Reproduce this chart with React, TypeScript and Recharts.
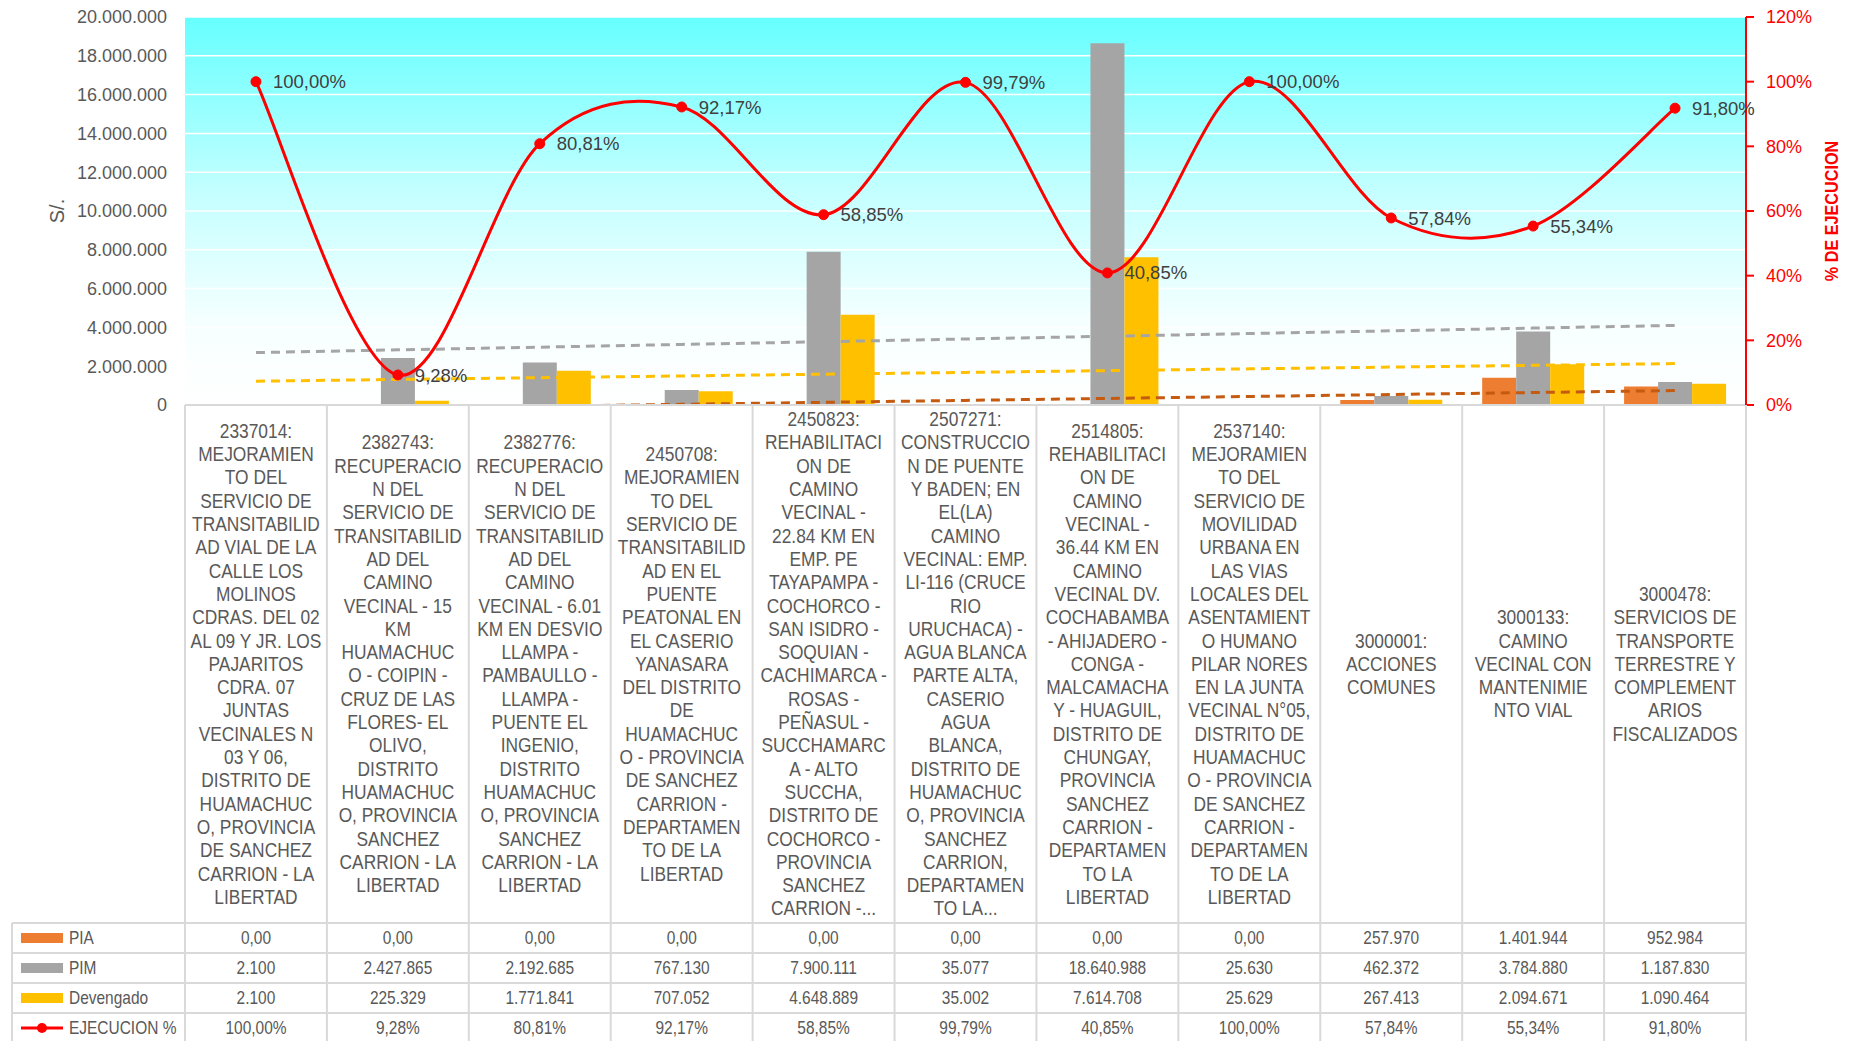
import React from "react";
import { ComposedChart, Bar, Line, XAxis, YAxis, CartesianGrid, LabelList } from "recharts";

// project names as they wrap in the table header
const categories = [
  "2337014:\nMEJORAMIEN\nTO DEL\nSERVICIO DE\nTRANSITABILID\nAD VIAL DE LA\nCALLE LOS\nMOLINOS\nCDRAS. DEL 02\nAL 09 Y JR. LOS\nPAJARITOS\nCDRA. 07\nJUNTAS\nVECINALES N\n03 Y 06,\nDISTRITO DE\nHUAMACHUC\nO, PROVINCIA\nDE SANCHEZ\nCARRION - LA\nLIBERTAD",
  "2382743:\nRECUPERACIO\nN DEL\nSERVICIO DE\nTRANSITABILID\nAD DEL\nCAMINO\nVECINAL - 15\nKM\nHUAMACHUC\nO - COIPIN -\nCRUZ DE LAS\nFLORES- EL\nOLIVO,\nDISTRITO\nHUAMACHUC\nO, PROVINCIA\nSANCHEZ\nCARRION - LA\nLIBERTAD",
  "2382776:\nRECUPERACIO\nN DEL\nSERVICIO DE\nTRANSITABILID\nAD DEL\nCAMINO\nVECINAL - 6.01\nKM EN DESVIO\nLLAMPA -\nPAMBAULLO -\nLLAMPA -\nPUENTE EL\nINGENIO,\nDISTRITO\nHUAMACHUC\nO, PROVINCIA\nSANCHEZ\nCARRION - LA\nLIBERTAD",
  "2450708:\nMEJORAMIEN\nTO DEL\nSERVICIO DE\nTRANSITABILID\nAD EN EL\nPUENTE\nPEATONAL EN\nEL CASERIO\nYANASARA\nDEL DISTRITO\nDE\nHUAMACHUC\nO - PROVINCIA\nDE SANCHEZ\nCARRION -\nDEPARTAMEN\nTO DE LA\nLIBERTAD",
  "2450823:\nREHABILITACI\nON DE\nCAMINO\nVECINAL -\n22.84 KM EN\nEMP. PE\nTAYAPAMPA -\nCOCHORCO -\nSAN ISIDRO -\nSOQUIAN -\nCACHIMARCA -\nROSAS -\nPEÑASUL -\nSUCCHAMARC\nA - ALTO\nSUCCHA,\nDISTRITO DE\nCOCHORCO -\nPROVINCIA\nSANCHEZ\nCARRION -...",
  "2507271:\nCONSTRUCCIO\nN DE PUENTE\nY BADEN; EN\nEL(LA)\nCAMINO\nVECINAL: EMP.\nLI-116 (CRUCE\nRIO\nURUCHACA) -\nAGUA BLANCA\nPARTE ALTA,\nCASERIO\nAGUA\nBLANCA,\nDISTRITO DE\nHUAMACHUC\nO, PROVINCIA\nSANCHEZ\nCARRION,\nDEPARTAMEN\nTO LA...",
  "2514805:\nREHABILITACI\nON DE\nCAMINO\nVECINAL -\n36.44 KM EN\nCAMINO\nVECINAL DV.\nCOCHABAMBA\n- AHIJADERO -\nCONGA -\nMALCAMACHA\nY - HUAGUIL,\nDISTRITO DE\nCHUNGAY,\nPROVINCIA\nSANCHEZ\nCARRION -\nDEPARTAMEN\nTO LA\nLIBERTAD",
  "2537140:\nMEJORAMIEN\nTO DEL\nSERVICIO DE\nMOVILIDAD\nURBANA EN\nLAS VIAS\nLOCALES DEL\nASENTAMIENT\nO HUMANO\nPILAR NORES\nEN LA JUNTA\nVECINAL N°05,\nDISTRITO DE\nHUAMACHUC\nO - PROVINCIA\nDE SANCHEZ\nCARRION -\nDEPARTAMEN\nTO DE LA\nLIBERTAD",
  "3000001:\nACCIONES\nCOMUNES",
  "3000133:\nCAMINO\nVECINAL CON\nMANTENIMIE\nNTO VIAL",
  "3000478:\nSERVICIOS DE\nTRANSPORTE\nTERRESTRE Y\nCOMPLEMENT\nARIOS\nFISCALIZADOS",
];

const pia = [0, 0, 0, 0, 0, 0, 0, 0, 257970, 1401944, 952984];
const pim = [2100, 2427865, 2192685, 767130, 7900111, 35077, 18640988, 25630, 462372, 3784880, 1187830];
const devengado = [2100, 225329, 1771841, 707052, 4648889, 35002, 7614708, 25629, 267413, 2094671, 1090464];
const ejecucion = [100.0, 9.28, 80.81, 92.17, 58.85, 99.79, 40.85, 100.0, 57.84, 55.34, 91.8];

const leftTicks = [0, 2000000, 4000000, 6000000, 8000000, 10000000, 12000000, 14000000, 16000000, 18000000, 20000000];
const rightTicks = [0, 20, 40, 60, 80, 100, 120];

const FONT = "'Liberation Sans', Arial, sans-serif";
const TEXT = "#595959";
const BORDER = "#D9D9D9";
const C_PIA = "#ED7D31";
const C_PIM = "#A5A5A5";
const C_DEV = "#FFC000";
const C_RED = "#FF0000";

const W = 1856;
const H = 1041;
const PLOT_L = 185;
const PLOT_R = 1746;
const PLOT_T = 17;
const PLOT_B = 405;
const BAND = (PLOT_R - PLOT_L) / categories.length;
const HEAD_B = 923;
const ROW_H = 30;
const LINE_H = 23.3;
// no narrow font installed, so squeeze text horizontally instead
const SQ_HEAD = 0.89;
const SQ_ROW = 0.86;

// least squares line, like excel's linear trendline
function linearFit(ys: number[]) {
  const n = ys.length;
  const mx = (n + 1) / 2;
  const my = ys.reduce((a, b) => a + b, 0) / n;
  let sxy = 0;
  let sxx = 0;
  ys.forEach((y, i) => {
    sxy += (i + 1 - mx) * (y - my);
    sxx += (i + 1 - mx) * (i + 1 - mx);
  });
  const slope = sxy / sxx;
  return ys.map((_, i) => my + slope * (i + 1 - mx));
}

// excel style smoothed line (catmull-rom through the points)
function excelSmooth(context: any) {
  let pts: number[][] = [];
  return {
    areaStart() {},
    areaEnd() {},
    lineStart() {
      pts = [];
    },
    lineEnd() {
      const n = pts.length;
      if (!n) return;
      context.moveTo(pts[0][0], pts[0][1]);
      for (let i = 0; i < n - 1; i++) {
        const p0 = pts[Math.max(i - 1, 0)];
        const p1 = pts[i];
        const p2 = pts[i + 1];
        const p3 = pts[Math.min(i + 2, n - 1)];
        context.bezierCurveTo(
          p1[0] + (p2[0] - p0[0]) / 6,
          p1[1] + (p2[1] - p0[1]) / 6,
          p2[0] - (p3[0] - p1[0]) / 6,
          p2[1] - (p3[1] - p1[1]) / 6,
          p2[0],
          p2[1]
        );
      }
    },
    point(x: number, y: number) {
      pts.push([+x, +y]);
    },
  };
}

const fmtNum = (v: number) => Math.round(v).toString().replace(/\B(?=(\d{3})+(?!\d))/g, ".");
const fmtCell = (v: number) => (v === 0 ? "0,00" : fmtNum(v));
const fmtPct = (v: number) => v.toFixed(2).replace(".", ",") + "%";

const trendPia = linearFit(pia);
const trendPim = linearFit(pim);
const trendDev = linearFit(devengado);

const data = categories.map((name, i) => ({
  name,
  pia: pia[i],
  pim: pim[i],
  dev: devengado[i],
  ejec: ejecucion[i],
  tPia: trendPia[i],
  tPim: trendPim[i],
  tDev: trendDev[i],
}));

const tableRows = [
  { label: "PIA", color: C_PIA, values: pia.map(fmtCell), line: false },
  { label: "PIM", color: C_PIM, values: pim.map(fmtCell), line: false },
  { label: "Devengado", color: C_DEV, values: devengado.map(fmtCell), line: false },
  { label: "EJECUCION %", color: C_RED, values: ejecucion.map(fmtPct), line: true },
];

function SqText({ x, y, sx, anchor, size, children }: any) {
  return (
    <g transform={`translate(${x} ${y}) scale(${sx} 1)`}>
      <text x={0} y={0} dy="0.35em" textAnchor={anchor} fontSize={size} fill={TEXT} fontFamily={FONT}>
        {children}
      </text>
    </g>
  );
}

function LegendColumn() {
  const l = 12;
  return (
    <g>
      <line x1={l} x2={l} y1={HEAD_B} y2={H} stroke={BORDER} strokeWidth={2} />
      {tableRows.map((r, i) => {
        const top = HEAD_B + i * ROW_H;
        const mid = top + ROW_H / 2;
        return (
          <g key={r.label}>
            <line x1={l} x2={PLOT_L} y1={top} y2={top} stroke={BORDER} strokeWidth={2} />
            {r.line ? (
              <g>
                <line x1={21} x2={63} y1={mid} y2={mid} stroke={r.color} strokeWidth={3} />
                <circle cx={42} cy={mid} r={5} fill={r.color} />
              </g>
            ) : (
              <rect x={21} y={mid - 5} width={42} height={10} fill={r.color} />
            )}
            <SqText x={69} y={mid} sx={SQ_ROW} anchor="start" size={18}>
              {r.label}
            </SqText>
          </g>
        );
      })}
    </g>
  );
}

function TableTick(props: any) {
  const { x, index, payload } = props;
  const left = x - BAND / 2;
  const right = x + BAND / 2;
  const lines = String(payload.value).split("\n");
  const cy = (PLOT_B + HEAD_B) / 2;
  return (
    <g>
      {index === 0 && <LegendColumn />}
      {index === 0 && <line x1={left} x2={left} y1={PLOT_B} y2={H} stroke={BORDER} strokeWidth={2} />}
      <line x1={right} x2={right} y1={PLOT_B} y2={H} stroke={BORDER} strokeWidth={2} />
      <g transform={`translate(${x} 0) scale(${SQ_HEAD} 1)`}>
        <text textAnchor="middle" fontSize={19.5} fill={TEXT} fontFamily={FONT}>
          {lines.map((ln, i) => (
            <tspan key={i} x={0} y={cy + (i - (lines.length - 1) / 2) * LINE_H} dy="0.35em">
              {ln}
            </tspan>
          ))}
        </text>
      </g>
      {tableRows.map((r, i) => {
        const top = HEAD_B + i * ROW_H;
        return (
          <g key={r.label}>
            <line x1={left} x2={right} y1={top} y2={top} stroke={BORDER} strokeWidth={2} />
            <SqText x={x} y={top + ROW_H / 2} sx={SQ_ROW} anchor="middle" size={18}>
              {r.values[index]}
            </SqText>
          </g>
        );
      })}
    </g>
  );
}

const LeftTitle = () => (
  <text x={57} y={211} transform="rotate(-90 57 211)" textAnchor="middle" dy="0.35em" fontSize={20} fill={TEXT} fontFamily={FONT}>
    S/.
  </text>
);

const RightTitle = () => (
  <g transform="translate(1832 211) rotate(-90) scale(0.9 1)">
    <text x={0} y={0} textAnchor="middle" dy="0.35em" fontSize={18} fontWeight="bold" fill={C_RED} fontFamily={FONT}>
      % DE EJECUCION
    </text>
  </g>
);

export default function App() {
  return (
    <div style={{ position: "absolute", left: 0, top: 0, width: W, height: H, background: "#fff" }}>
      <ComposedChart
        width={W}
        height={H}
        data={data}
        margin={{ top: PLOT_T, right: 0, bottom: 0, left: 0 }}
        barCategoryGap={20}
        barGap={0}
      >
        <defs>
          <linearGradient id="plotBg" x1="0" y1="0" x2="0" y2="1">
            <stop offset="0%" stopColor="#66FFFF" />
            <stop offset="45%" stopColor="#C4FFFF" />
            <stop offset="80%" stopColor="#F7FFFF" />
            <stop offset="100%" stopColor="#FFFFFF" />
          </linearGradient>
        </defs>
        <CartesianGrid yAxisId="left" vertical={false} stroke="#FFFFFF" strokeWidth={1.5} fill="url(#plotBg)" />
        <XAxis
          dataKey="name"
          height={H - PLOT_B}
          interval={0}
          tickLine={false}
          tickSize={0}
          tickMargin={0}
          axisLine={{ stroke: BORDER, strokeWidth: 2 }}
          tick={(p: any) => <TableTick {...p} />}
        />
        <YAxis
          yAxisId="left"
          width={PLOT_L}
          domain={[0, 20000000]}
          ticks={leftTicks}
          allowDataOverflow
          axisLine={false}
          tickLine={false}
          tickSize={0}
          tickMargin={18}
          tickFormatter={fmtNum}
          tick={{ fill: TEXT, fontSize: 18, fontFamily: FONT }}
          label={<LeftTitle />}
        />
        <YAxis
          yAxisId="right"
          orientation="right"
          width={W - PLOT_R}
          domain={[0, 120]}
          ticks={rightTicks}
          axisLine={{ stroke: C_RED, strokeWidth: 2 }}
          tickLine={{ stroke: C_RED, strokeWidth: 2 }}
          tickSize={8}
          tickMargin={12}
          tickFormatter={(v: number) => v + "%"}
          tick={{ fill: C_RED, fontSize: 18, fontFamily: FONT }}
          label={<RightTitle />}
        />
        <Bar yAxisId="left" dataKey="pia" fill={C_PIA} isAnimationActive={false} />
        <Bar yAxisId="left" dataKey="pim" fill={C_PIM} isAnimationActive={false} />
        <Bar yAxisId="left" dataKey="dev" fill={C_DEV} isAnimationActive={false} />
        <Line yAxisId="left" dataKey="tPim" type="linear" stroke="#A5A5A5" strokeWidth={3} strokeDasharray="9 6" dot={false} activeDot={false} isAnimationActive={false} />
        <Line yAxisId="left" dataKey="tDev" type="linear" stroke="#FFC000" strokeWidth={3} strokeDasharray="9 6" dot={false} activeDot={false} isAnimationActive={false} />
        <Line yAxisId="left" dataKey="tPia" type="linear" stroke="#C55A11" strokeWidth={3} strokeDasharray="9 6" dot={false} activeDot={false} isAnimationActive={false} />
        <Line
          yAxisId="right"
          dataKey="ejec"
          type={excelSmooth as any}
          stroke={C_RED}
          strokeWidth={3}
          dot={{ r: 5, fill: C_RED, stroke: C_RED, strokeWidth: 1 }}
          activeDot={false}
          isAnimationActive={false}
        >
          <LabelList dataKey="ejec" position="right" offset={17} formatter={(v: any) => fmtPct(Number(v))} fill="#404040" fontSize={18.5} fontFamily={FONT} />
        </Line>
      </ComposedChart>
    </div>
  );
}
